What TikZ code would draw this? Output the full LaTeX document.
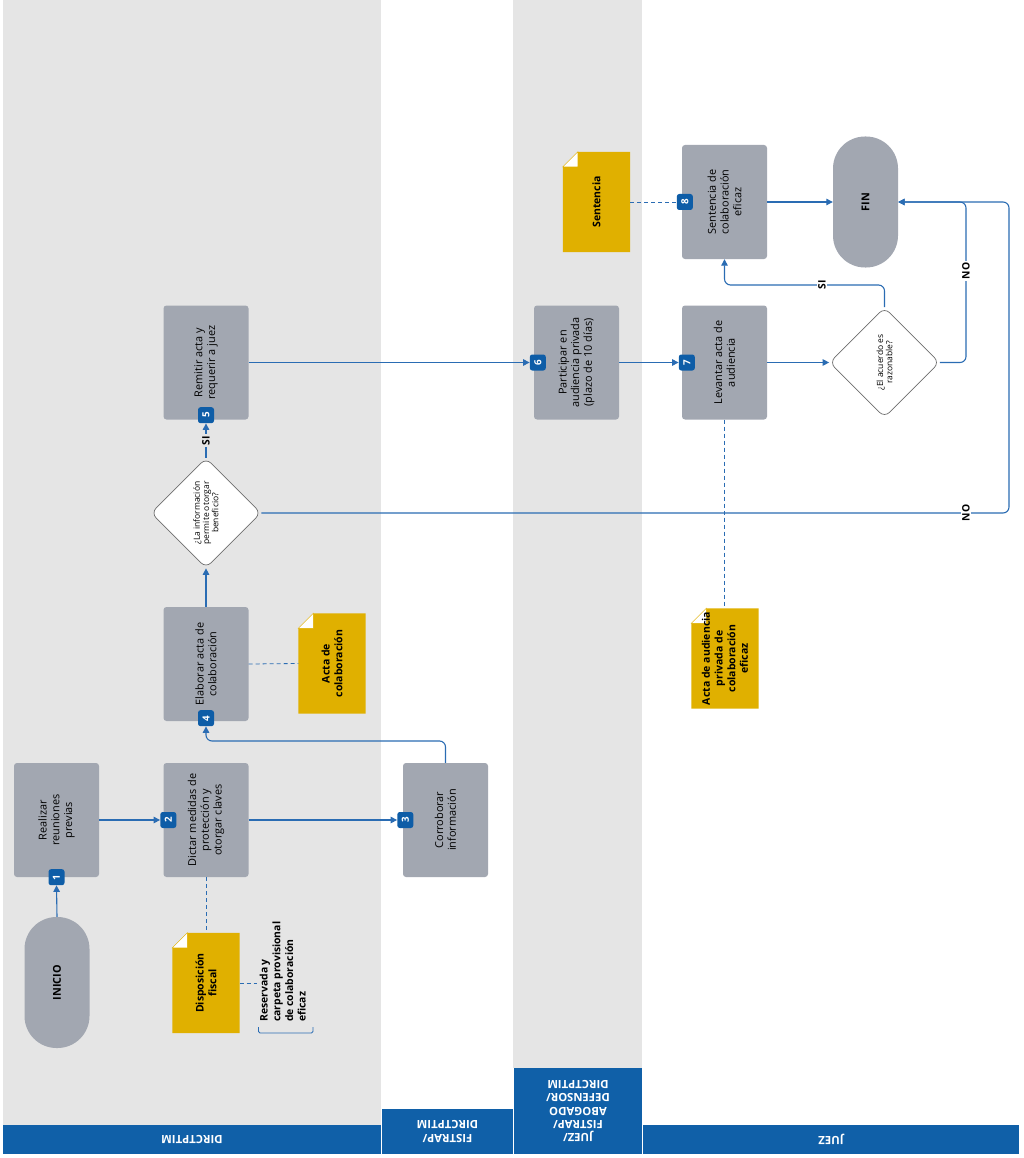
\documentclass[tikz,border=0pt]{standalone}
\usepackage{fontspec}
\setmainfont{Open Sans}
\usetikzlibrary{arrows.meta,shapes.geometric,calc}
\definecolor{lanegray}{HTML}{E5E5E5}
\definecolor{hdrblue}{HTML}{1060A8}
\definecolor{badgeblue}{HTML}{0E5DA7}
\definecolor{boxgray}{HTML}{A2A7B1}
\definecolor{docgold}{HTML}{E0B000}
\definecolor{lineblue}{HTML}{2A6CB3}
\definecolor{dmdgray}{HTML}{6E6E6E}
\tikzset{
 task/.style={fill=boxgray, rounded corners=3pt, inner sep=0pt, minimum width=85pt, minimum height=114pt},
 tasktext/.style={rotate=90, align=center, inner sep=0pt, font=\fontsize{10.9}{12.7}\selectfont},
 term/.style={fill=boxgray, rounded corners=32pt, inner sep=0pt, minimum width=65pt, minimum height=131pt},
 termtext/.style={rotate=90, inner sep=0pt, font=\bfseries\fontsize{10.8}{12}\selectfont},
 badge/.style={fill=badgeblue, rounded corners=2.5pt, inner sep=0pt, minimum size=16pt, text=white, font=\bfseries\fontsize{9.8}{10}\selectfont},
 dmd/.style={diamond, draw=dmdgray, fill=white, line width=0.7pt, rounded corners=7pt, inner sep=0pt, minimum width=110pt, minimum height=110pt},
 dmdtext/.style={rotate=90, align=center, inner sep=0pt, font=\fontsize{8.5}{9.3}\selectfont},
 docn/.style={inner sep=0pt, minimum width=67pt, minimum height=100pt},
 doctext/.style={rotate=90, align=center, inner sep=0pt, font=\bfseries\fontsize{10.5}{12.7}\selectfont},
 hdr/.style={fill=hdrblue, inner sep=0pt, text=white, align=center, rotate=180, font=\bfseries\fontsize{11.3}{13.3}\selectfont},
 conn/.style={draw=lineblue, line width=1.1pt, -{Triangle[length=6.5pt,width=6.5pt]}},
 assoc/.style={draw=lineblue, line width=0.8pt, dash pattern=on 4pt off 3pt},
 lbl/.style={rotate=90, inner sep=1.5pt, font=\bfseries\fontsize{10.3}{11}\selectfont},
}
\newcommand\docfold[1]{%
 \fill[docgold] ($(#1.north west)+(0,15)$) -- ($(#1.north west)+(15,0)$) -- (#1.north east) -- (#1.south east) -- (#1.south west) -- cycle;
 \filldraw[fill=white, draw=docgold, line width=0.5pt] ($(#1.north west)+(0,15)$) -- ($(#1.north west)+(15,0)$) -- ($(#1.north west)+(15,15)$) -- cycle;}
\begin{document}
\begin{tikzpicture}[x=1pt,y=-1pt]
\useasboundingbox (0,0) rectangle (1024,1158);
\fill[white] (0,0) rectangle (1024,1158);
% lanes
\fill[lanegray] (3,0) rectangle (381,1125);
\fill[lanegray] (513,0) rectangle (642,1068);
% headers
\node[hdr, minimum width=378pt, minimum height=29pt] (h1) at (192,1139.5) {DIRCTPTIM};
\node[hdr, minimum width=131pt, minimum height=45pt] (h2) at (447.5,1131.5) {FISTRAP/\\DIRCTPTIM};
\node[hdr, minimum width=128pt, minimum height=86pt] (h3) at (578,1111) {JUEZ/\\FISTRAP/\\ABOGADO\\DEFENSOR/\\DIRCTPTIM};
\node[hdr, minimum width=376pt, minimum height=29pt] (h4) at (831,1139.5) {JUEZ};

% terminals
\node[term] (start) at (57,982.5) {};
\node[termtext] at (start) {INICIO};
\node[term] (fin) at (865.5,202) {};
\node[termtext] at (fin) {FIN};

% tasks
\node[task] (b1) at (56.5,820) {};
\node[tasktext] at (b1) {Realizar\\reuniones\\previas};
\node[task] (b2) at (206,820) {};
\node[tasktext] at (b2) {Dictar medidas de\\protección y\\otorgar claves};
\node[task] (b3) at (445.5,820) {};
\node[tasktext] at (b3) {Corroborar\\información};
\node[task] (b4) at (206,664) {};
\node[tasktext] at (b4) {Elaborar acta de\\colaboración};
\node[task] (b5) at (206,362.5) {};
\node[tasktext] at (b5) {Remitir acta y\\requerir a juez};
\node[task] (b6) at (576.5,362.5) {};
\node[tasktext] at (b6) {Participar en\\audiencia privada\\(plazo de 10 días)};
\node[task] (b7) at (724.5,362.5) {};
\node[tasktext] at (b7) {Levantar acta de\\audiencia};
\node[task] (b8) at (724.5,202) {};
\node[tasktext] at (b8) {Sentencia de\\colaboración\\eficaz};

% decisions
\node[dmd] (d1) at (206,513) {};
\node[dmdtext] at (d1) {¿La información\\permite otorgar\\beneficio?};
\node[dmd] (d2) at (884.5,362.5) {};
\node[dmdtext] at (d2) {¿El acuerdo es\\razonable?};

% documents
\node[docn] (doc1) at (206,983) {};
\docfold{doc1}
\node[doctext] at (doc1) {Disposición\\fiscal};
\node[docn] (doc2) at (332,663.5) {};
\docfold{doc2}
\node[doctext] at (doc2) {Acta de\\colaboración};
\node[docn] (doc3) at (596.5,202) {};
\docfold{doc3}
\node[doctext] at (doc3) {Sentencia};
\node[docn] (doc4) at (725,658.5) {};
\docfold{doc4}
\node[doctext] at (doc4) {Acta de audiencia\\privada de\\colaboración\\eficaz};

% annotation
\node[rotate=90, anchor=north west, align=left, inner sep=0pt, font=\bfseries\fontsize{10.4}{12.7}\selectfont] (ann) at (259.5,1022) {Reservada y\\carpeta provisional\\de colaboración\\eficaz};
\draw[lineblue, line width=0.8pt, rounded corners=1.5pt] (258.5,1027) -- (258.5,1033) -- (313,1033) -- (313,1027);
\coordinate (annc) at (257,983);

% badges
\node[badge] (n1) at (b1.south) {\rotatebox{90}{1}};
\node[badge] (n2) at ($(b2.west)+(5,0)$) {\rotatebox{90}{2}};
\node[badge] (n3) at ($(b3.west)+(2.5,0)$) {\rotatebox{90}{3}};
\node[badge] (n4) at ($(b4.south)+(0,-3)$) {\rotatebox{90}{4}};
\node[badge] (n5) at ($(b5.south)+(0,-4.5)$) {\rotatebox{90}{5}};
\node[badge] (n6) at ($(b6.west)+(4,0)$) {\rotatebox{90}{6}};
\node[badge] (n7) at ($(b7.west)+(5,0)$) {\rotatebox{90}{7}};
\node[badge] (n8) at ($(b8.west)+(3,0)$) {\rotatebox{90}{8}};

% helper coordinates
\coordinate (c4) at (206,741);
\coordinate (cs) at (724.5,285);
\coordinate (cn) at (966,202);
\coordinate (cl) at (1009,202);

% connectors
\draw[conn] (start.north) -- (n1.south);
\draw[conn] (b1.east) -- (n2.west);
\draw[conn] (b2.east) -- (n3.west);
\draw[conn, rounded corners=6pt] (b3.north) |- (c4) -- (n4.south);
\draw[assoc] (b2.south) -- (doc1.north);
\draw[assoc] (doc1.east) -- (annc);
\draw[assoc] (b4.east) -- (doc2.west);
\draw[conn] (b4.north) -- (d1.south);
\draw[conn] (d1.north) -- node[lbl, fill=lanegray] {SI} (n5.south);
\draw[conn] (b5.east) -- (n6.west);
\draw[conn] (b6.east) -- (n7.west);
\draw[assoc] (b7.south) -- (b7.south |- doc4.north);
\draw[assoc] (doc3.east) -- (n8.west);
\draw[conn] (b8.east) -- (fin.west);
\draw[conn] (b7.east) -- (d2.west);
\draw[conn, rounded corners=6pt] (d2.north) |- (cs) -- (b8.south);
\draw[conn, rounded corners=6pt] (d2.east) -| (cn) -- (fin.east);
\draw[conn, rounded corners=6pt] (d1.east) -| (cl) -- (fin.east);
\node[lbl, fill=white] at (822,285) {SI};
\node[lbl, fill=white] at (966,271) {NO};
\node[lbl, fill=white] at (966,513) {NO};
\end{tikzpicture}
\end{document}
